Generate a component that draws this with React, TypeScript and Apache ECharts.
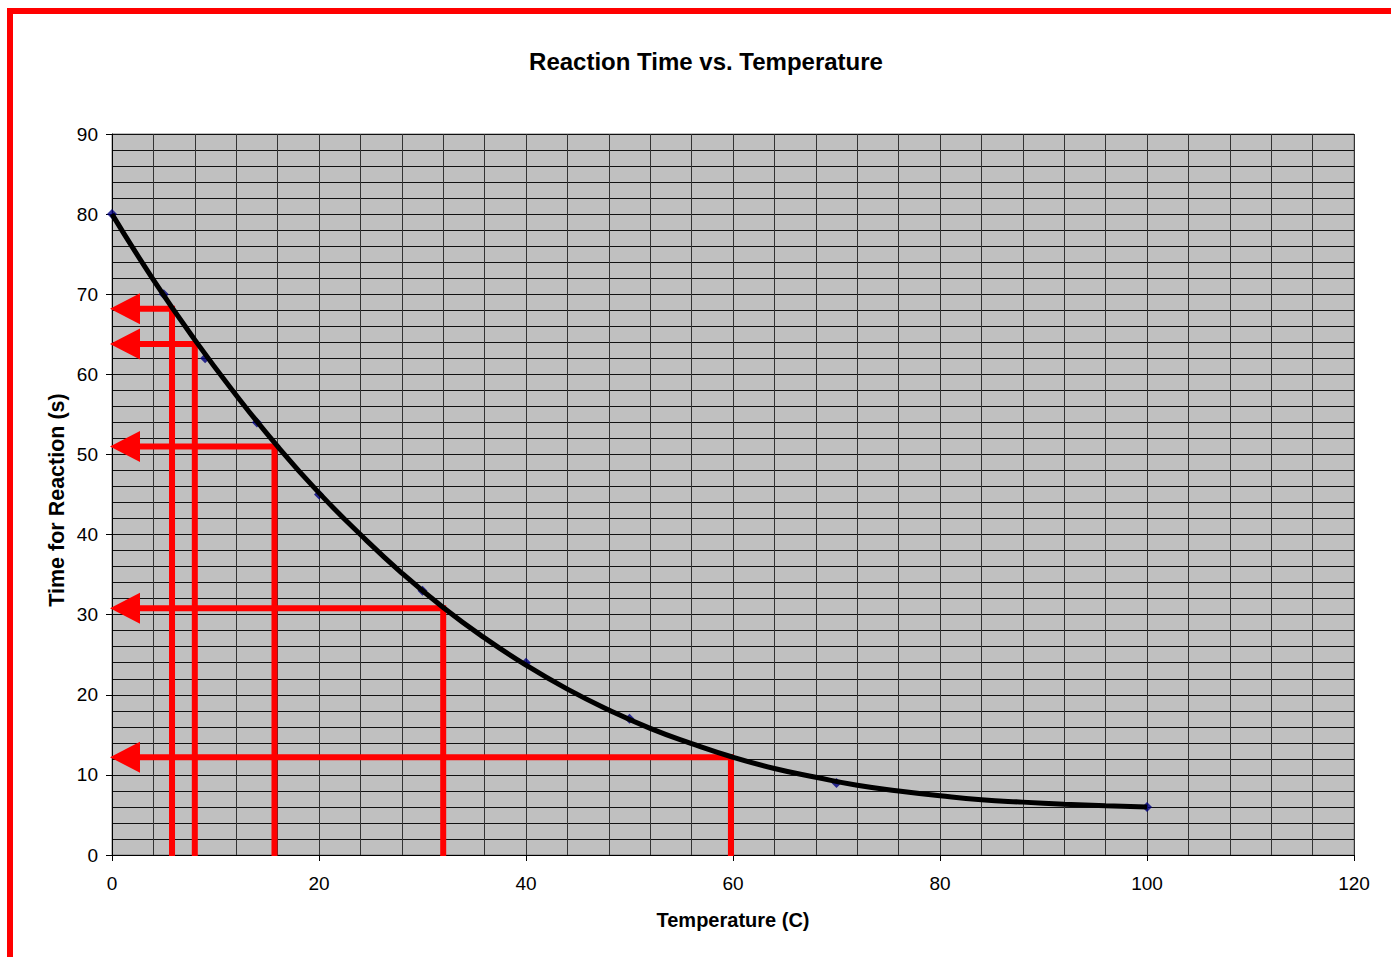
import React, { useEffect, useRef } from "react";
import * as echarts from "echarts";

// Measured data points
const TEMPERATURE = [0, 5, 9, 14, 20, 30, 40, 50, 70, 100];
const REACTION_TIME = [80, 70, 62, 54, 45, 33, 24, 17, 9, 6];

// Trendline
const TREND_TEMPERATURE = [0, 4, 8, 12, 16, 20, 24, 28, 32, 36, 40, 44, 48, 52, 56, 60, 64, 68, 72, 76, 80, 84, 88, 92, 96, 100];
const TREND_TIME = [80, 71.8, 64.3, 57.4, 51.0, 45.2, 40.0, 35.2, 30.9, 27.1, 23.7, 20.7, 18.1, 15.8, 13.9, 12.2, 10.8, 9.7, 8.7, 8.0, 7.4, 6.9, 6.6, 6.35, 6.15, 6.0];

// Red read-off arrows
const ARROW_TEMPERATURE = [5.8, 8, 15.7, 32, 59.8];
const ARROW_TIME = [68.2, 63.8, 51, 30.8, 12.2];

const TITLE = "Reaction Time vs. Temperature";
const X_NAME = "Temperature (C)";
const Y_NAME = "Time for Reaction (s)";

const FONT = "'Liberation Sans', Arial, Helvetica, sans-serif";

export default function App() {
  const ref = useRef<HTMLDivElement>(null);

  useEffect(() => {
    if (!ref.current) return;
    const chart = echarts.init(ref.current, null, { renderer: "svg" });

    const points = TEMPERATURE.map((t, i) => [t, REACTION_TIME[i]]);
    const trend = TREND_TEMPERATURE.map((t, i) => [t, TREND_TIME[i]]);
    const arrows = ARROW_TEMPERATURE.map((t, i) => [t, ARROW_TIME[i]]);

    const option: any = {
      animation: false,
      backgroundColor: "#ffffff",
      grid: {
        left: 112,
        top: 134,
        width: 1242,
        height: 721,
        show: true,
        backgroundColor: "#C0C0C0",
        borderColor: "#808080",
        borderWidth: 1,
      },
      xAxis: {
        type: "value",
        min: 0,
        max: 120,
        interval: 20,
        axisLine: { show: true, onZero: false, lineStyle: { color: "#000", width: 1 } },
        axisTick: { show: true, inside: false, length: 6, lineStyle: { color: "#000" } },
        axisLabel: { fontSize: 19, color: "#000", fontFamily: FONT, margin: 19 },
        splitLine: { show: true, lineStyle: { color: "#333", width: 1 } },
        minorTick: { show: false, splitNumber: 5 },
        minorSplitLine: { show: true, lineStyle: { color: "#333", width: 1 } },
      },
      yAxis: {
        type: "value",
        min: 0,
        max: 90,
        interval: 10,
        axisLine: { show: true, onZero: false, lineStyle: { color: "#000", width: 1 } },
        axisTick: { show: true, inside: false, length: 6, lineStyle: { color: "#000" } },
        axisLabel: { fontSize: 19, color: "#000", fontFamily: FONT, margin: 14 },
        splitLine: { show: true, lineStyle: { color: "#111", width: 1 } },
        minorTick: { show: false, splitNumber: 5 },
        minorSplitLine: { show: true, lineStyle: { color: "#111", width: 1 } },
      },
      graphic: [
        { type: "rect", shape: { x: 7, y: 8, width: 6, height: 960 }, style: { fill: "#ff0000" }, z: 100 },
        { type: "rect", shape: { x: 7, y: 8, width: 1390, height: 6 }, style: { fill: "#ff0000" }, z: 100 },
        {
          type: "text",
          x: 706,
          y: 61,
          style: { text: TITLE, font: `bold 24px ${FONT}`, fill: "#000", textAlign: "center", textVerticalAlign: "middle" },
        },
        {
          type: "text",
          x: 733,
          y: 920,
          style: { text: X_NAME, font: `bold 20px ${FONT}`, fill: "#000", textAlign: "center", textVerticalAlign: "middle" },
        },
        {
          type: "text",
          x: 57,
          y: 500,
          rotation: Math.PI / 2,
          style: { text: Y_NAME, font: `bold 21.5px ${FONT}`, fill: "#000", textAlign: "center", textVerticalAlign: "middle" },
        },
      ],
      series: [
        {
          type: "custom",
          coordinateSystem: "cartesian2d",
          data: arrows,
          encode: { x: 0, y: 1 },
          z: 3,
          clip: false,
          renderItem: (params: any, api: any) => {
            const x = api.value(0);
            const y = api.value(1);
            const pBottom = api.coord([x, 0]);
            const pCurve = api.coord([x, y]);
            const pLeft = api.coord([0, y]);
            const tipX = pLeft[0] - 2;
            const baseX = pLeft[0] + 28;
            return {
              type: "group",
              children: [
                {
                  type: "polyline",
                  shape: { points: [[pBottom[0], pBottom[1] + 1], [pCurve[0], pCurve[1]], [baseX, pLeft[1]]] },
                  style: { stroke: "#ff0000", lineWidth: 6, fill: "none", lineJoin: "miter" },
                },
                {
                  type: "polygon",
                  shape: { points: [[tipX, pLeft[1]], [baseX, pLeft[1] - 15.5], [baseX, pLeft[1] + 15.5]] },
                  style: { fill: "#ff0000" },
                },
              ],
            };
          },
        },
        {
          type: "scatter",
          data: points,
          symbol: "diamond",
          symbolSize: 10,
          itemStyle: { color: "#000080" },
          z: 4,
        },
        {
          type: "line",
          data: trend,
          smooth: true,
          symbol: "none",
          lineStyle: { color: "#000", width: 5 },
          z: 5,
        },
      ],
    };

    chart.setOption(option);
    return () => chart.dispose();
  }, []);

  return (
    <div
      ref={ref}
      style={{ position: "fixed", left: 0, top: 0, width: 1391, height: 957 }}
    />
  );
}
